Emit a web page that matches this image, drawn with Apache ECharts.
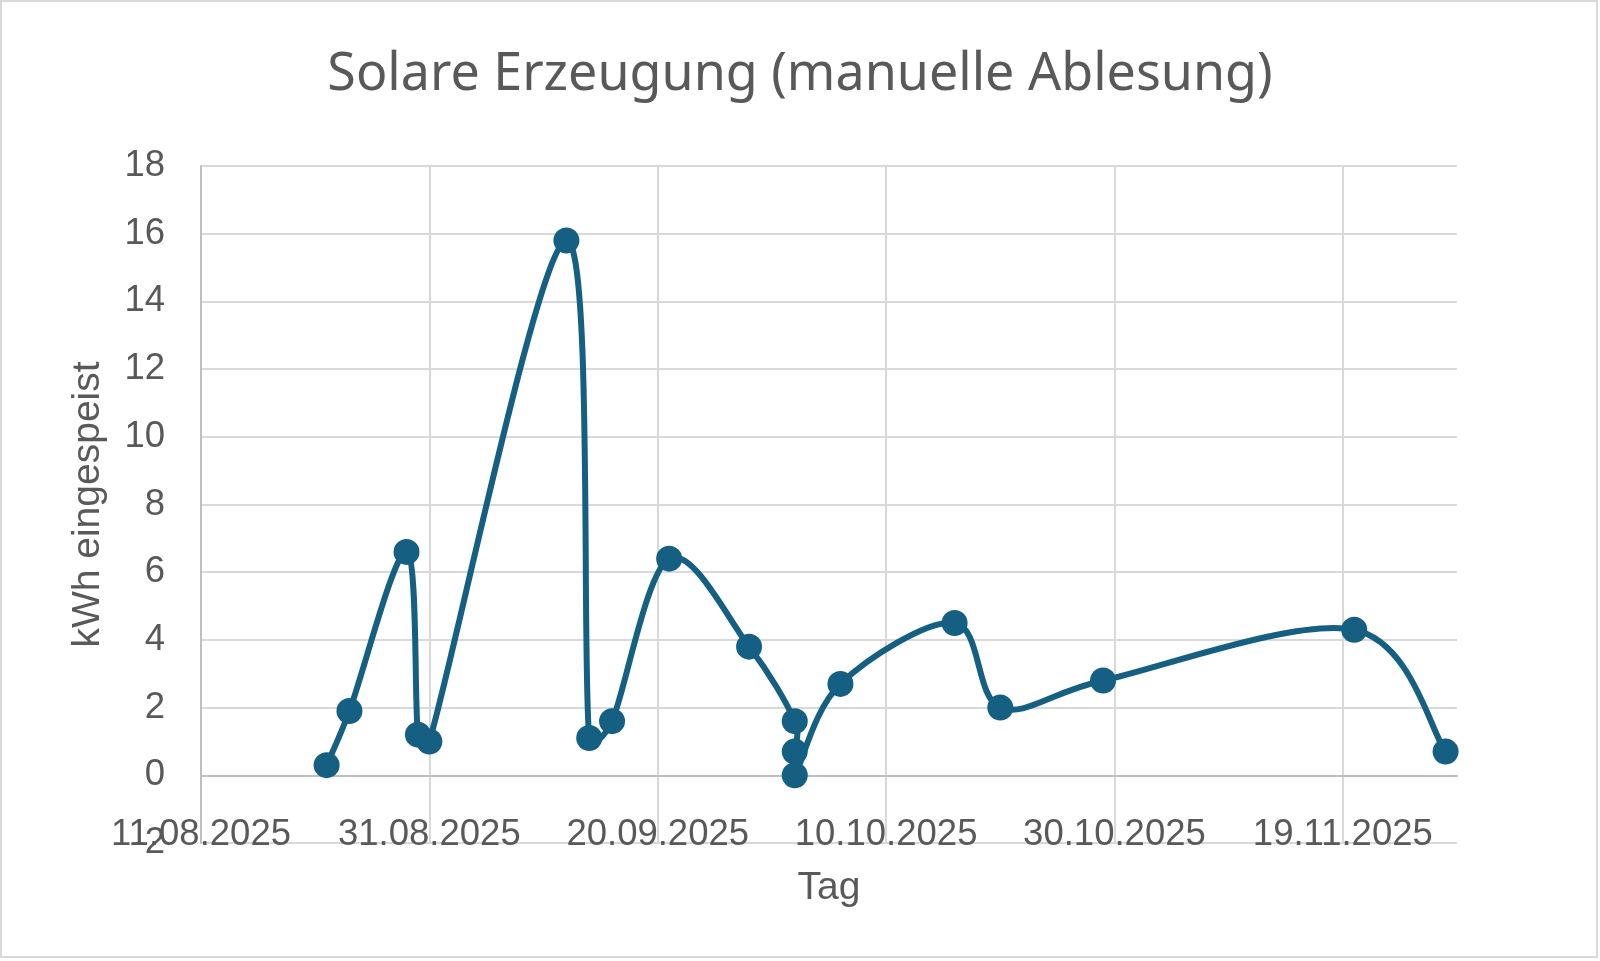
<!DOCTYPE html>
<html>
<head>
<meta charset="utf-8">
<script src="https://cdn.jsdelivr.net/npm/echarts@6/dist/echarts.min.js"></script>
<style>
  html, body { margin: 0; padding: 0; background: #fff; }
  #chart { width: 1600px; height: 961px; }
</style>
</head>
<body>
<div id="chart"></div>
<script>
// Ablesetage und eingespeiste kWh
var tage = [
  '22.08.2025', '24.08.2025', '29.08.2025', '30.08.2025', '31.08.2025',
  '12.09.2025', '14.09.2025', '16.09.2025', '21.09.2025', '28.09.2025',
  '02.10.2025', '02.10.2025', '02.10.2025', '06.10.2025', '16.10.2025',
  '20.10.2025', '29.10.2025', '20.11.2025', '28.11.2025'
]
var kwh = [
  0.3, 1.9, 6.6, 1.2, 1.0,
  15.8, 1.1, 1.6, 6.4, 3.8,
  1.6, 0.7, 0.0, 2.7, 4.5,
  2.0, 2.8, 4.3, 0.7
]
var xStart = '11.08.2025'
var xEnd = '29.11.2025'
var yTicks = [-2, 0, 2, 4, 6, 8, 10, 12, 14, 16, 18]

// Datum -> Excel-Seriennummer (Tage), damit das 20-Tage-Raster wie in Excel liegt
function serial(s) {
  var p = s.split('.')
  return Date.UTC(+p[2], +p[1] - 1, +p[0]) / 86400000 + 25569
}
function fmt(v) {
  var d = new Date((v - 25569) * 86400000)
  var dd = ('0' + d.getUTCDate()).slice(-2)
  var mm = ('0' + (d.getUTCMonth() + 1)).slice(-2)
  return dd + '.' + mm + '.' + d.getUTCFullYear()
}

var points = []
for (var i = 0; i < tage.length; i++) {
  points.push([serial(tage[i]), kwh[i]])
}

// Excel-artige Glättung: Bezier mit Armen (P[i+1]-P[i-1])/6, höchstens halbe Segmentlänge
function arm(p0, p2, seg) {
  var vx = (p2[0] - p0[0]) / 6, vy = (p2[1] - p0[1]) / 6
  var len = Math.sqrt(vx * vx + vy * vy)
  var cap = seg / 2
  if (len > cap && len > 0) { vx = vx * cap / len; vy = vy * cap / len }
  return [vx, vy]
}
function renderSegment(params, api) {
  var i = params.dataIndex
  if (i === 0) return null
  var n = points.length
  var p0 = api.coord(points[Math.max(i - 2, 0)])
  var p1 = api.coord(points[i - 1])
  var p2 = api.coord(points[i])
  var p3 = api.coord(points[Math.min(i + 1, n - 1)])
  if (i - 2 < 0) p0 = p1
  var seg = Math.sqrt((p2[0] - p1[0]) * (p2[0] - p1[0]) + (p2[1] - p1[1]) * (p2[1] - p1[1]))
  var a1 = arm(p0, p2, seg)
  var a2 = arm(p1, p3, seg)
  return {
    type: 'bezierCurve',
    shape: {
      x1: p1[0], y1: p1[1],
      cpx1: p1[0] + a1[0], cpy1: p1[1] + a1[1],
      cpx2: p2[0] - a2[0], cpy2: p2[1] - a2[1],
      x2: p2[0], y2: p2[1]
    },
    style: { fill: null, stroke: '#156082', lineWidth: 6, lineCap: 'round' }
  }
}

var grey = '#595959'
var myChart = echarts.init(document.getElementById('chart'))
var option = {
  backgroundColor: '#fff',
  animation: false,
  title: {
    text: 'Solare Erzeugung (manuelle Ablesung)',
    left: 'center',
    top: 44,
    textStyle: { color: grey, fontFamily: 'Noto Sans', fontWeight: 'normal', fontSize: 52 }
  },
  graphic: [{
    type: 'rect',
    shape: { x: 1, y: 1, width: 1596, height: 956 },
    style: { fill: 'none', stroke: '#d9d9d9', lineWidth: 2 }
  }],
  grid: { left: 201, right: 143, top: 166, bottom: 118 },
  xAxis: {
    type: 'value',
    min: serial(xStart),
    max: serial(xEnd),
    interval: 20,
    offset: -67.7,
    name: 'Tag',
    nameLocation: 'middle',
    nameGap: 93,
    nameTextStyle: { color: grey, fontFamily: 'Liberation Sans', fontSize: 39 },
    axisLine: { onZero: false, lineStyle: { color: '#bfbfbf', width: 2 } },
    axisTick: { show: false },
    axisLabel: {
      color: grey, fontFamily: 'Liberation Sans', fontSize: 36.5, margin: 41,
      showMaxLabel: false,
      formatter: fmt
    },
    splitLine: { show: true, showMaxLine: false, lineStyle: { color: '#d9d9d9', width: 2 } }
  },
  yAxis: {
    type: 'value',
    min: yTicks[0],
    max: yTicks[yTicks.length - 1],
    interval: 2,
    name: 'kWh eingespeist',
    nameLocation: 'middle',
    nameGap: 93,
    nameTextStyle: { color: grey, fontFamily: 'Liberation Sans', fontSize: 39 },
    axisLine: { show: true, onZero: false, lineStyle: { color: '#bfbfbf', width: 2 } },
    axisTick: { show: false },
    axisLabel: { color: grey, fontFamily: 'Liberation Sans', fontSize: 36.5, margin: 36 },
    splitLine: { lineStyle: { color: '#d9d9d9', width: 2 } }
  },
  series: [{
    type: 'custom',
    data: points,
    renderItem: renderSegment,
    z: 2
  }, {
    type: 'scatter',
    data: points,
    symbol: 'circle',
    symbolSize: 26,
    itemStyle: { color: '#156082', opacity: 1 },
    z: 3
  }]
}
myChart.setOption(option)
</script>
</body>
</html>
